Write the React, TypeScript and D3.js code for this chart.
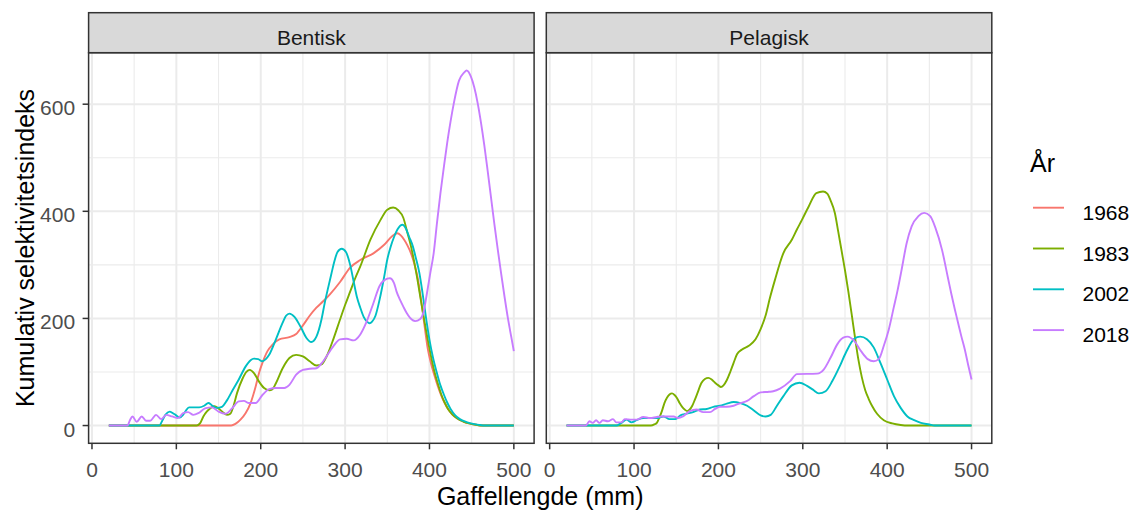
import React from 'react';
import * as d3 from 'd3';

type Pt = [number, number];

// Legend / series metadata
const years = ['1968', '1983', '2002', '2018'];
const yearColors = ['#F8766D', '#7CAE00', '#00BFC4', '#C77CFF'];
const panelNames = ['Bentisk', 'Pelagisk'];

// Axis ticks
const xTicks = [0, 100, 200, 300, 400, 500];
const xMinorTicks = [50, 150, 250, 350, 450];
const yTicks = [0, 200, 400, 600];
const yMinorTicks = [100, 300, 500];

// Cumulative selectivity index by fork length (mm) — benthic
const bentisk1968: Pt[] = [
  [20, 0], [165, 0], [170, 3], [176, 11], [182, 23], [188, 42], [194, 73], [198, 98], [202, 117],
  [208, 139], [214, 151], [222, 161], [234, 165], [242, 171], [250, 187], [258, 205], [266, 220],
  [274, 232], [282, 245], [294, 268], [306, 295], [318, 309], [334, 322], [346, 337], [356, 354],
  [362, 359], [366, 355], [370, 347], [374, 336], [378, 322], [382, 302], [386, 276], [390, 235],
  [394, 188], [398, 143], [402, 115], [406, 93], [410, 73], [414, 56], [418, 42], [422, 31],
  [427, 21], [433, 13], [440, 7.5], [447, 4], [455, 1.5], [462, 0], [500, 0],
];

const bentisk1983: Pt[] = [
  [20, 0], [124, 0], [128, 4], [132, 17], [136, 26], [140, 32], [145, 36], [150, 32], [155, 25],
  [160, 20], [164, 22], [168, 38], [172, 61], [178, 86], [183, 100], [187, 104], [192, 98],
  [198, 82], [204, 70], [210, 66], [214, 68], [218, 79], [226, 107], [234, 126], [242, 132],
  [250, 129], [258, 120], [266, 112], [272, 114], [278, 129], [286, 161], [294, 198], [300, 225],
  [306, 250], [312, 275], [318, 297], [330, 347], [342, 384], [350, 403], [357, 407], [363, 402],
  [369, 388], [374, 359], [378, 335], [382, 305], [386, 270], [390, 232], [394, 195], [398, 160],
  [402, 128], [406, 100], [410, 78], [414, 58], [418, 43], [422, 31], [427, 21], [433, 13],
  [440, 7.5], [447, 4], [455, 1.5], [462, 0], [500, 0],
];

const bentisk2002: Pt[] = [
  [20, 0], [80, 0], [83, 8], [87, 20], [92, 26], [96, 23], [99, 20], [104, 15], [108, 20],
  [111, 27], [115, 34], [127, 34], [133, 37], [138, 42], [142, 38], [148, 33], [154, 35],
  [160, 47], [166, 64], [174, 86], [182, 110], [188, 122], [192, 125], [197, 124], [202, 120],
  [206, 124], [210, 132], [218, 161], [226, 192], [230, 205], [234, 209], [240, 203], [248, 182],
  [254, 164], [260, 156], [266, 166], [272, 198], [276, 230], [280, 258], [284, 285], [287, 305],
  [291, 324], [296, 330], [301, 324], [306, 300], [310, 270], [314, 240], [318, 220], [322, 203],
  [326, 194], [329, 191], [332, 194], [336, 205], [341, 236], [346, 275], [350, 310], [354, 334],
  [358, 352], [362, 366], [368, 375], [372, 368], [376, 352], [380, 336], [384, 312], [388, 285],
  [392, 245], [396, 200], [400, 160], [404, 128], [409, 97], [413, 75], [417, 58], [421, 43],
  [425, 31], [430, 20], [436, 12], [444, 6.5], [452, 3], [460, 1], [465, 0], [500, 0],
];

const bentisk2018: Pt[] = [
  [20, 0], [42, 0], [45, 10], [48, 17], [53, 7], [59, 17], [64, 9], [69, 9], [76, 20], [82, 12],
  [88, 20], [95, 17], [102, 14], [108, 23], [114, 25], [120, 20], [126, 23], [134, 32], [142, 34],
  [150, 26], [158, 22], [166, 32], [174, 45], [180, 46], [186, 42], [194, 42], [202, 57],
  [210, 68], [218, 70], [228, 70], [234, 76], [242, 95], [250, 104], [258, 106], [266, 107],
  [274, 120], [286, 148], [294, 161], [302, 162], [310, 159], [318, 170], [325, 192], [333, 226],
  [341, 261], [347, 272], [353, 275], [358, 266], [361, 250], [365, 235], [369, 222], [373, 210],
  [377, 201], [383, 195], [389, 199], [393, 212], [397, 247], [401, 285], [405, 322], [409, 380],
  [413, 434], [417, 482], [421, 528], [425, 568], [429, 603], [435, 644], [441, 659], [444, 663],
  [449, 652], [453, 632], [457, 603], [461, 566], [465, 523], [469, 475], [473, 425], [477, 375],
  [481, 328], [485, 283], [489, 240], [493, 200], [497, 165], [500, 139],
];

// Cumulative selectivity index by fork length (mm) — pelagic
const pelagisk1983: Pt[] = [
  [20, 0], [120, 0], [124, 2], [127, 5], [130, 15], [133, 27], [136, 42], [139, 52], [142, 58],
  [145, 60], [148, 57], [151, 51], [154, 42], [157, 35], [160, 30], [163, 27], [166, 30],
  [169, 37], [172, 48], [175, 60], [180, 80], [184, 87], [188, 89], [192, 86], [196, 80],
  [200, 75], [203, 72], [206, 75], [210, 85], [214, 100], [218, 117], [222, 133], [228, 142],
  [236, 149], [244, 161], [250, 180], [256, 206], [261, 238], [267, 272], [277, 322], [287, 347],
  [293, 366], [299, 384], [307, 409], [316, 434], [324, 437], [329, 433], [333, 420], [338, 397],
  [342, 362], [346, 326], [350, 290], [354, 250], [358, 207], [362, 163], [366, 122], [370, 90],
  [374, 66], [378, 50], [382, 37], [388, 22], [396, 10], [406, 4], [416, 1], [425, 0], [500, 0],
];

const pelagisk2002: Pt[] = [
  [20, 0], [79, 0], [85, 5], [91, 11], [97, 6], [103, 10], [111, 14], [127, 14], [135, 17],
  [142, 12], [149, 12], [155, 19], [162, 22], [170, 25], [178, 30], [186, 31], [194, 35],
  [202, 37], [210, 41], [218, 44], [226, 42], [234, 37], [242, 28], [250, 19], [256, 17],
  [262, 20], [269, 36], [277, 55], [287, 75], [296, 80], [305, 74], [312, 67], [319, 60],
  [327, 64], [335, 83], [343, 108], [351, 136], [361, 162], [368, 166], [376, 161], [384, 146],
  [392, 117], [400, 86], [408, 55], [416, 33], [424, 17], [432, 10], [440, 5], [450, 2],
  [456, 0], [500, 0],
];

const pelagisk2018: Pt[] = [
  [20, 0], [43, 0], [47, 8], [51, 5], [55, 10], [59, 5], [63, 10], [69, 8], [75, 12], [79, 6],
  [85, 6], [89, 12], [97, 11], [103, 11], [111, 16], [119, 14], [127, 16], [133, 17], [147, 17],
  [152, 14], [158, 17], [166, 27], [174, 30], [182, 25], [190, 25], [196, 31], [202, 35],
  [210, 35], [218, 37], [226, 42], [234, 46], [242, 55], [250, 62], [260, 63], [265, 64],
  [273, 69], [285, 83], [293, 96], [317, 97], [325, 105], [333, 127], [341, 152], [348, 164],
  [353, 166], [361, 158], [369, 139], [377, 124], [384, 120], [390, 124], [396, 149], [402, 180],
  [408, 222], [412, 250], [417, 290], [423, 340], [429, 372], [437, 391], [444, 397], [451, 391],
  [457, 370], [465, 328], [472, 276], [476, 246], [480, 218], [484, 192], [488, 166], [492, 142],
  [496, 113], [500, 86],
];

const panels = [
  {
    name: panelNames[0],
    series: [
      { year: years[0], data: bentisk1968 },
      { year: years[1], data: bentisk1983 },
      { year: years[2], data: bentisk2002 },
      { year: years[3], data: bentisk2018 },
    ],
  },
  {
    name: panelNames[1],
    series: [
      { year: years[1], data: pelagisk1983 },
      { year: years[2], data: pelagisk2002 },
      { year: years[3], data: pelagisk2018 },
    ],
  },
];

const W = 1134;
const H = 512;
const FONT = '"Liberation Sans", Arial, Helvetica, sans-serif';
const panelLefts = [88.6, 546.3];
const panelWidth = 445.5;
const stripTop = 12.7;
const panelTop = 52.7;
const panelBottom = 443.3;

const allPts = panels.flatMap((p) => p.series.flatMap((s) => s.data));
const xExt = d3.extent(allPts, (d) => d[0]) as [number, number];
const yMax = d3.max(allPts, (d) => d[1]) as number;
const xPad = (xExt[1] - xExt[0]) * 0.05;
const yPad = yMax * 0.05;

const x = d3.scaleLinear().domain([xExt[0] - xPad, xExt[1] + xPad]).range([0, panelWidth]);
const y = d3.scaleLinear().domain([-yPad, yMax + yPad]).range([panelBottom, panelTop]);
const colorOf = d3.scaleOrdinal<string, string>().domain(years).range(yearColors);

const line = d3
  .line<Pt>()
  .x((d) => x(d[0]))
  .y((d) => y(d[1]))
  .curve(d3.curveMonotoneX);

export default function App() {
  const gridColor = '#EBEBEB';
  const dark = '#333333';
  return (
    <div style={{ position: 'absolute', left: 0, top: 0 }}>
      <svg width={W} height={H} style={{ display: 'block', background: '#fff' }} fontFamily={FONT}>
        <rect width={W} height={H} fill="#fff" />
        {panels.map((p, pi) => {
          const left = panelLefts[pi];
          const clipId = `clip-${pi}`;
          return (
            <g key={p.name}>
              <clipPath id={clipId}>
                <rect x={0} y={panelTop} width={panelWidth} height={panelBottom - panelTop} />
              </clipPath>
              <g transform={`translate(${left},0)`}>
                <rect x={0} y={panelTop} width={panelWidth} height={panelBottom - panelTop} fill="#fff" />
                {yMinorTicks.map((t) => (
                  <line key={`ym${t}`} x1={0} x2={panelWidth} y1={y(t)} y2={y(t)} stroke={gridColor} strokeWidth={1.1} />
                ))}
                {xMinorTicks.map((t) => (
                  <line key={`xm${t}`} x1={x(t)} x2={x(t)} y1={panelTop} y2={panelBottom} stroke={gridColor} strokeWidth={1.1} />
                ))}
                {yTicks.map((t) => (
                  <line key={`yM${t}`} x1={0} x2={panelWidth} y1={y(t)} y2={y(t)} stroke={gridColor} strokeWidth={2} />
                ))}
                {xTicks.map((t) => (
                  <line key={`xM${t}`} x1={x(t)} x2={x(t)} y1={panelTop} y2={panelBottom} stroke={gridColor} strokeWidth={2} />
                ))}
                <g clipPath={`url(#${clipId})`}>
                  {p.series.map((s) => (
                    <path
                      key={s.year}
                      d={line(s.data) ?? ''}
                      fill="none"
                      stroke={colorOf(s.year)}
                      strokeWidth={1.9}
                      strokeLinejoin="round"
                    />
                  ))}
                </g>
                <rect
                  x={0}
                  y={panelTop}
                  width={panelWidth}
                  height={panelBottom - panelTop}
                  fill="none"
                  stroke={dark}
                  strokeWidth={1.5}
                />
                {/* facet strip */}
                <rect
                  x={0}
                  y={stripTop}
                  width={panelWidth}
                  height={panelTop - stripTop}
                  fill="#D9D9D9"
                  stroke={dark}
                  strokeWidth={1.5}
                />
                <text x={panelWidth / 2} y={45} textAnchor="middle" fontSize={21} fill="#1A1A1A">
                  {p.name}
                </text>
                {/* x axis */}
                {xTicks.map((t) => (
                  <g key={`xt${t}`}>
                    <line x1={x(t)} x2={x(t)} y1={panelBottom} y2={panelBottom + 6} stroke={dark} strokeWidth={1.5} />
                    <text x={x(t)} y={477} textAnchor="middle" fontSize={21} fill="#4D4D4D">
                      {t}
                    </text>
                  </g>
                ))}
                {/* y axis on the first panel only */}
                {pi === 0 &&
                  yTicks.map((t) => (
                    <g key={`yt${t}`}>
                      <line x1={-6} x2={0} y1={y(t)} y2={y(t)} stroke={dark} strokeWidth={1.5} />
                      <text x={-13.5} y={y(t) + 11} textAnchor="end" fontSize={21} fill="#4D4D4D">
                        {t}
                      </text>
                    </g>
                  ))}
              </g>
            </g>
          );
        })}
        {/* axis titles */}
        <text x={(panelLefts[0] + panelLefts[1] + panelWidth) / 2} y={505} textAnchor="middle" fontSize={25} fill="#000">
          Gaffellengde (mm)
        </text>
        <text
          transform={`translate(33.5,${(panelTop + panelBottom) / 2}) rotate(-90)`}
          textAnchor="middle"
          fontSize={25}
          fill="#000"
        >
          Kumulativ selektivitetsindeks
        </text>
        {/* legend */}
        <g>
          <text x={1030} y={171.5} fontSize={25} fill="#000">
            År
          </text>
          {years.map((yr, i) => {
            const ky = 207.7 + i * 40.8;
            return (
              <g key={yr}>
                <line x1={1033} x2={1064} y1={ky} y2={ky} stroke={colorOf(yr)} strokeWidth={1.9} />
                <text x={1082.5} y={ky + 12} fontSize={21} fill="#000">
                  {yr}
                </text>
              </g>
            );
          })}
        </g>
      </svg>
    </div>
  );
}
